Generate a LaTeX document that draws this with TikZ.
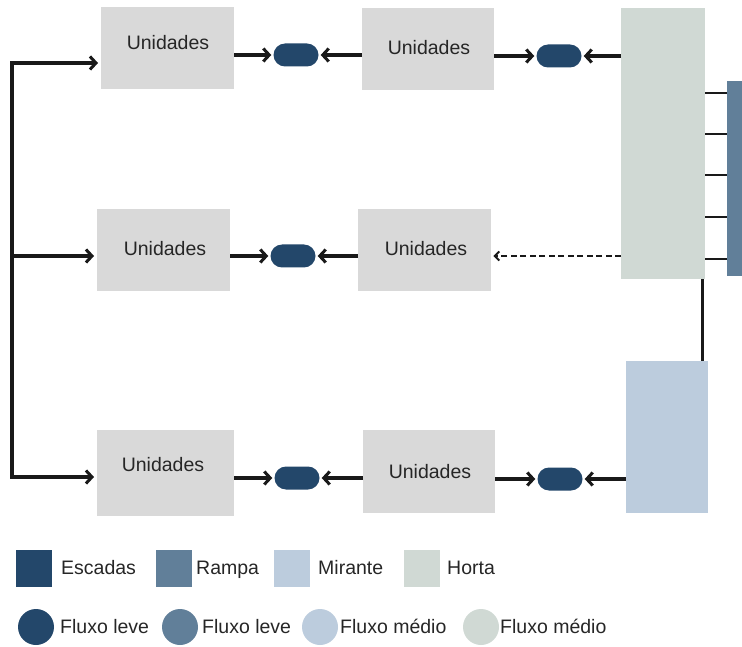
\documentclass[tikz,border=0pt]{standalone}
\usepackage{fontspec}
\setmainfont{Liberation Sans}
\usetikzlibrary{arrows.meta,calc}

\definecolor{escadas}{HTML}{23476A}
\definecolor{rampa}{HTML}{617F99}
\definecolor{mirante}{HTML}{BCCCDD}
\definecolor{horta}{HTML}{D0D9D4}
\definecolor{unidade}{HTML}{D9D9D9}
\definecolor{ink}{HTML}{262626}

\tikzset{
  unitbox/.style={fill=unidade, draw=none, inner sep=0pt, anchor=north west},
  block/.style={draw=none, inner sep=0pt, anchor=north west},
  pill/.style={fill=escadas, draw=none, rounded corners=11.5pt,
    minimum width=45pt, minimum height=23pt, inner sep=0pt},
  lbl/.style={text=ink, font=\fontsize{19.5}{22}\selectfont, inner sep=0pt, anchor=base},
  flow/.style={draw=black!90, line width=3.2pt,
    -{Straight Barb[length=6pt,width=13pt,line width=3pt]}},
  dashflow/.style={draw=black!90, line width=2pt, dash pattern=on 6pt off 3.5pt,
    -{Straight Barb[length=4.5pt,width=9pt,line width=2pt]}},
  link/.style={draw=black!90, line width=3pt},
  tick/.style={draw=black!90, line width=2pt},
  swatch/.style={draw=none, minimum width=36pt, minimum height=37pt, inner sep=0pt, anchor=north west},
  dot/.style={circle, draw=none, minimum size=36pt, inner sep=0pt},
}

\begin{document}
\begin{tikzpicture}[x=1pt, y=-1pt]
\useasboundingbox (0,0) rectangle (742,647);

% unit blocks
\node[unitbox, minimum width=133pt, minimum height=82pt] (A1) at (101,7) {};
\node[unitbox, minimum width=132pt, minimum height=82pt] (B1) at (362,8) {};
\node[unitbox, minimum width=133pt, minimum height=82pt] (A2) at (97,209) {};
\node[unitbox, minimum width=133pt, minimum height=82pt] (B2) at (358,209) {};
\node[unitbox, minimum width=137pt, minimum height=86pt] (A3) at (97,430) {};
\node[unitbox, minimum width=132pt, minimum height=83pt] (B3) at (363,430) {};

\node[lbl] (tA1) at (168,50) {Unidades};
\node[lbl] (tB1) at (429,55) {Unidades};
\node[lbl] (tA2) at (165,256) {Unidades};
\node[lbl] (tB2) at (426,256) {Unidades};
\node[lbl] (tA3) at (163,471) {Unidades};
\node[lbl] (tB3) at (430,478) {Unidades};

% horta, rampa, mirante
\node[block, fill=horta, minimum width=84pt, minimum height=271pt] (H) at (621,8) {};
\node[block, fill=rampa, minimum width=16pt, minimum height=195pt] (R) at (727,81) {};
\node[block, fill=mirante, minimum width=82pt, minimum height=152pt] (M) at (626,361) {};

% flow pills
\node[pill] (P1) at (296,55) {};
\node[pill] (P2) at (559,56) {};
\node[pill] (P3) at (293,256) {};
\node[pill] (P4) at (297,478) {};
\node[pill] (P5) at (560,479) {};

% left distribution bracket
\coordinate (ltop) at (12,63);
\coordinate (lmid) at (12,256);
\coordinate (lbot) at (12,477);
\draw[flow, shorten >=3pt] (lbot) -- (ltop) -- (A1.west |- ltop);
\draw[flow, shorten >=3pt] (ltop) -- (lbot) -- (A3.west |- lbot);
\draw[flow, shorten >=3pt] (lmid) -- (A2.west |- lmid);

% row 1
\draw[flow, shorten >=2pt] (A1.east |- P1) -- (P1.west);
\draw[flow, shorten >=2pt] (B1.west |- P1) -- (P1.east);
\draw[flow, shorten >=2pt] (B1.east |- P2) -- (P2.west);
\draw[flow, shorten >=2pt] (H.west |- P2) -- (P2.east);

% row 2
\draw[flow, shorten >=2pt] (A2.east |- P3) -- (P3.west);
\draw[flow, shorten >=2pt] (B2.west |- P3) -- (P3.east);
\draw[dashflow, shorten >=2pt] (H.west |- P3) -- (B2.east |- P3);

% row 3
\draw[flow, shorten >=2pt] (A3.east |- P4) -- (P4.west);
\draw[flow, shorten >=2pt] (B3.west |- P4) -- (P4.east);
\draw[flow, shorten >=2pt] (B3.east |- P5) -- (P5.west);
\draw[flow, shorten >=2pt] (M.west |- P5) -- (P5.east);

% rampa ties and horta-mirante link
\foreach \y in {93,134,175,217,259}
  \draw[tick] (H.east |- 0,\y) -- (R.west |- 0,\y);
\coordinate (hm) at ($(H.south east)+(-3,0)$);
\draw[link] (hm) -- (hm |- M.north);

% legend: areas
\node[swatch, fill=escadas] (s1) at (16,550) {};
\node[lbl, anchor=base west] (l1) at (61,574) {Escadas};
\node[swatch, fill=rampa] (s2) at (156,550) {};
\node[lbl, anchor=base west] (l2) at (196,574) {Rampa};
\node[swatch, fill=mirante] (s3) at (274,550) {};
\node[lbl, anchor=base west] (l3) at (318,574) {Mirante};
\node[swatch, fill=horta] (s4) at (404,550) {};
\node[lbl, anchor=base west] (l4) at (447,574) {Horta};

% legend: flows
\node[dot, fill=escadas] (c1) at (36,627) {};
\node[lbl, anchor=base west] (f1) at (60,633) {Fluxo leve};
\node[dot, fill=rampa] (c2) at (180,627) {};
\node[lbl, anchor=base west] (f2) at (202,633) {Fluxo leve};
\node[dot, fill=mirante] (c3) at (320,627) {};
\node[lbl, anchor=base west] (f3) at (340,633) {Fluxo médio};
\node[dot, fill=horta] (c4) at (481,627) {};
\node[lbl, anchor=base west] (f4) at (500,633) {Fluxo médio};
\end{tikzpicture}
\end{document}
